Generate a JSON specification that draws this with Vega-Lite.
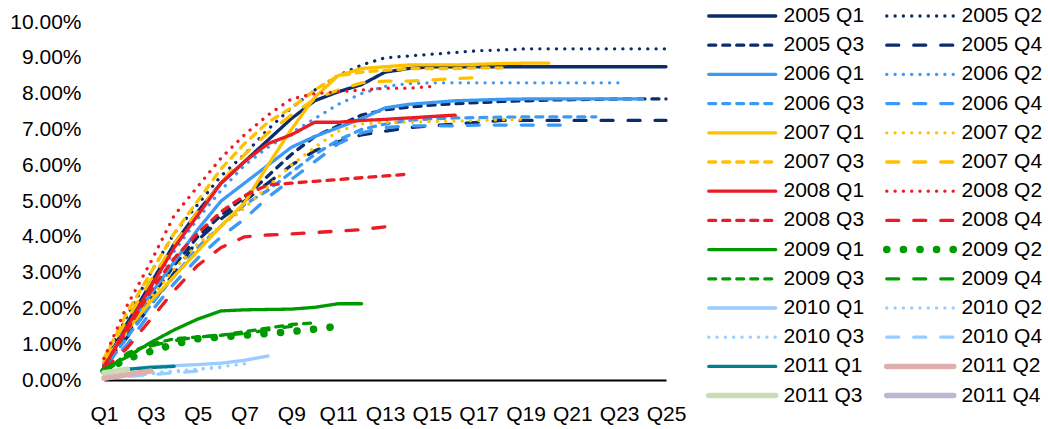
{
"$schema":"https://vega.github.io/schema/vega-lite/v6.json",
"autosize":{"type":"none"},
"padding":{"left":104,"top":22,"right":382,"bottom":49},
"width":562,"height":358,
"config":{"view":{"stroke":null},"font":"Liberation Sans"},
"data":{"values":[
{"s":"2005 Q1","q":1,"v":0.4},{"s":"2005 Q1","q":2,"v":1.6},{"s":"2005 Q1","q":3,"v":2.7},{"s":"2005 Q1","q":4,"v":3.8},{"s":"2005 Q1","q":5,"v":4.7},{"s":"2005 Q1","q":6,"v":5.5},{"s":"2005 Q1","q":7,"v":6.1},{"s":"2005 Q1","q":8,"v":6.7},{"s":"2005 Q1","q":9,"v":7.3},{"s":"2005 Q1","q":10,"v":7.8},{"s":"2005 Q1","q":11,"v":8.05},{"s":"2005 Q1","q":12,"v":8.25},{"s":"2005 Q1","q":13,"v":8.6},{"s":"2005 Q1","q":14,"v":8.7},{"s":"2005 Q1","q":15,"v":8.75},{"s":"2005 Q1","q":16,"v":8.75},{"s":"2005 Q1","q":17,"v":8.75},{"s":"2005 Q1","q":18,"v":8.75},{"s":"2005 Q1","q":19,"v":8.75},{"s":"2005 Q1","q":20,"v":8.75},{"s":"2005 Q1","q":21,"v":8.75},{"s":"2005 Q1","q":22,"v":8.75},{"s":"2005 Q1","q":23,"v":8.75},{"s":"2005 Q1","q":24,"v":8.75},{"s":"2005 Q1","q":25,"v":8.75},
{"s":"2005 Q2","q":1,"v":0.5},{"s":"2005 Q2","q":2,"v":1.8},{"s":"2005 Q2","q":3,"v":3.0},{"s":"2005 Q2","q":4,"v":4.1},{"s":"2005 Q2","q":5,"v":4.9},{"s":"2005 Q2","q":6,"v":5.7},{"s":"2005 Q2","q":7,"v":6.3},{"s":"2005 Q2","q":8,"v":7.0},{"s":"2005 Q2","q":9,"v":7.6},{"s":"2005 Q2","q":10,"v":8.1},{"s":"2005 Q2","q":11,"v":8.5},{"s":"2005 Q2","q":12,"v":8.8},{"s":"2005 Q2","q":13,"v":9.0},{"s":"2005 Q2","q":14,"v":9.05},{"s":"2005 Q2","q":15,"v":9.1},{"s":"2005 Q2","q":16,"v":9.15},{"s":"2005 Q2","q":17,"v":9.2},{"s":"2005 Q2","q":18,"v":9.22},{"s":"2005 Q2","q":19,"v":9.25},{"s":"2005 Q2","q":20,"v":9.25},{"s":"2005 Q2","q":21,"v":9.25},{"s":"2005 Q2","q":22,"v":9.25},{"s":"2005 Q2","q":23,"v":9.25},{"s":"2005 Q2","q":24,"v":9.25},{"s":"2005 Q2","q":25,"v":9.25},
{"s":"2005 Q3","q":1,"v":0.35},{"s":"2005 Q3","q":2,"v":1.3},{"s":"2005 Q3","q":3,"v":2.3},{"s":"2005 Q3","q":4,"v":3.2},{"s":"2005 Q3","q":5,"v":4.0},{"s":"2005 Q3","q":6,"v":4.6},{"s":"2005 Q3","q":7,"v":5.1},{"s":"2005 Q3","q":8,"v":5.7},{"s":"2005 Q3","q":9,"v":6.3},{"s":"2005 Q3","q":10,"v":6.8},{"s":"2005 Q3","q":11,"v":7.1},{"s":"2005 Q3","q":12,"v":7.4},{"s":"2005 Q3","q":13,"v":7.55},{"s":"2005 Q3","q":14,"v":7.62},{"s":"2005 Q3","q":15,"v":7.68},{"s":"2005 Q3","q":16,"v":7.72},{"s":"2005 Q3","q":17,"v":7.75},{"s":"2005 Q3","q":18,"v":7.78},{"s":"2005 Q3","q":19,"v":7.8},{"s":"2005 Q3","q":20,"v":7.82},{"s":"2005 Q3","q":21,"v":7.83},{"s":"2005 Q3","q":22,"v":7.84},{"s":"2005 Q3","q":23,"v":7.85},{"s":"2005 Q3","q":24,"v":7.85},{"s":"2005 Q3","q":25,"v":7.85},
{"s":"2005 Q4","q":1,"v":0.4},{"s":"2005 Q4","q":2,"v":1.2},{"s":"2005 Q4","q":3,"v":2.1},{"s":"2005 Q4","q":4,"v":3.0},{"s":"2005 Q4","q":5,"v":3.9},{"s":"2005 Q4","q":6,"v":4.5},{"s":"2005 Q4","q":7,"v":5.0},{"s":"2005 Q4","q":8,"v":5.5},{"s":"2005 Q4","q":9,"v":6.0},{"s":"2005 Q4","q":10,"v":6.4},{"s":"2005 Q4","q":11,"v":6.65},{"s":"2005 Q4","q":12,"v":6.85},{"s":"2005 Q4","q":13,"v":6.95},{"s":"2005 Q4","q":14,"v":7.05},{"s":"2005 Q4","q":15,"v":7.1},{"s":"2005 Q4","q":16,"v":7.15},{"s":"2005 Q4","q":17,"v":7.2},{"s":"2005 Q4","q":18,"v":7.25},{"s":"2005 Q4","q":19,"v":7.25},{"s":"2005 Q4","q":20,"v":7.25},{"s":"2005 Q4","q":21,"v":7.25},{"s":"2005 Q4","q":22,"v":7.25},{"s":"2005 Q4","q":23,"v":7.25},{"s":"2005 Q4","q":24,"v":7.25},{"s":"2005 Q4","q":25,"v":7.25},
{"s":"2006 Q1","q":1,"v":0.4},{"s":"2006 Q1","q":2,"v":1.4},{"s":"2006 Q1","q":3,"v":2.4},{"s":"2006 Q1","q":4,"v":3.3},{"s":"2006 Q1","q":5,"v":4.2},{"s":"2006 Q1","q":6,"v":5.0},{"s":"2006 Q1","q":7,"v":5.5},{"s":"2006 Q1","q":8,"v":6.0},{"s":"2006 Q1","q":9,"v":6.5},{"s":"2006 Q1","q":10,"v":6.8},{"s":"2006 Q1","q":11,"v":7.05},{"s":"2006 Q1","q":12,"v":7.3},{"s":"2006 Q1","q":13,"v":7.6},{"s":"2006 Q1","q":14,"v":7.7},{"s":"2006 Q1","q":15,"v":7.75},{"s":"2006 Q1","q":16,"v":7.8},{"s":"2006 Q1","q":17,"v":7.82},{"s":"2006 Q1","q":18,"v":7.84},{"s":"2006 Q1","q":19,"v":7.85},{"s":"2006 Q1","q":20,"v":7.85},{"s":"2006 Q1","q":21,"v":7.85},{"s":"2006 Q1","q":22,"v":7.85},{"s":"2006 Q1","q":23,"v":7.85},{"s":"2006 Q1","q":24,"v":7.85},
{"s":"2006 Q2","q":1,"v":0.45},{"s":"2006 Q2","q":2,"v":1.5},{"s":"2006 Q2","q":3,"v":2.6},{"s":"2006 Q2","q":4,"v":3.6},{"s":"2006 Q2","q":5,"v":4.5},{"s":"2006 Q2","q":6,"v":5.3},{"s":"2006 Q2","q":7,"v":6.0},{"s":"2006 Q2","q":8,"v":6.5},{"s":"2006 Q2","q":9,"v":6.9},{"s":"2006 Q2","q":10,"v":7.3},{"s":"2006 Q2","q":11,"v":7.7},{"s":"2006 Q2","q":12,"v":8.0},{"s":"2006 Q2","q":13,"v":8.2},{"s":"2006 Q2","q":14,"v":8.28},{"s":"2006 Q2","q":15,"v":8.3},{"s":"2006 Q2","q":16,"v":8.3},{"s":"2006 Q2","q":17,"v":8.3},{"s":"2006 Q2","q":18,"v":8.3},{"s":"2006 Q2","q":19,"v":8.3},{"s":"2006 Q2","q":20,"v":8.3},{"s":"2006 Q2","q":21,"v":8.3},{"s":"2006 Q2","q":22,"v":8.3},{"s":"2006 Q2","q":23,"v":8.3},
{"s":"2006 Q3","q":1,"v":0.3},{"s":"2006 Q3","q":2,"v":1.2},{"s":"2006 Q3","q":3,"v":2.1},{"s":"2006 Q3","q":4,"v":2.9},{"s":"2006 Q3","q":5,"v":3.7},{"s":"2006 Q3","q":6,"v":4.3},{"s":"2006 Q3","q":7,"v":4.9},{"s":"2006 Q3","q":8,"v":5.3},{"s":"2006 Q3","q":9,"v":5.8},{"s":"2006 Q3","q":10,"v":6.3},{"s":"2006 Q3","q":11,"v":6.7},{"s":"2006 Q3","q":12,"v":7.0},{"s":"2006 Q3","q":13,"v":7.15},{"s":"2006 Q3","q":14,"v":7.25},{"s":"2006 Q3","q":15,"v":7.3},{"s":"2006 Q3","q":16,"v":7.32},{"s":"2006 Q3","q":17,"v":7.33},{"s":"2006 Q3","q":18,"v":7.34},{"s":"2006 Q3","q":19,"v":7.35},{"s":"2006 Q3","q":20,"v":7.35},{"s":"2006 Q3","q":21,"v":7.35},{"s":"2006 Q3","q":22,"v":7.35},
{"s":"2006 Q4","q":1,"v":0.3},{"s":"2006 Q4","q":2,"v":1.0},{"s":"2006 Q4","q":3,"v":1.9},{"s":"2006 Q4","q":4,"v":2.7},{"s":"2006 Q4","q":5,"v":3.4},{"s":"2006 Q4","q":6,"v":4.0},{"s":"2006 Q4","q":7,"v":4.5},{"s":"2006 Q4","q":8,"v":5.1},{"s":"2006 Q4","q":9,"v":5.6},{"s":"2006 Q4","q":10,"v":6.1},{"s":"2006 Q4","q":11,"v":6.6},{"s":"2006 Q4","q":12,"v":6.9},{"s":"2006 Q4","q":13,"v":7.05},{"s":"2006 Q4","q":14,"v":7.1},{"s":"2006 Q4","q":15,"v":7.1},{"s":"2006 Q4","q":16,"v":7.1},{"s":"2006 Q4","q":17,"v":7.12},{"s":"2006 Q4","q":18,"v":7.12},{"s":"2006 Q4","q":19,"v":7.12},{"s":"2006 Q4","q":20,"v":7.12},{"s":"2006 Q4","q":21,"v":7.12},
{"s":"2007 Q1","q":1,"v":0.5},{"s":"2007 Q1","q":2,"v":1.4},{"s":"2007 Q1","q":3,"v":2.2},{"s":"2007 Q1","q":4,"v":2.9},{"s":"2007 Q1","q":5,"v":3.6},{"s":"2007 Q1","q":6,"v":4.3},{"s":"2007 Q1","q":7,"v":4.95},{"s":"2007 Q1","q":8,"v":6.0},{"s":"2007 Q1","q":9,"v":7.0},{"s":"2007 Q1","q":10,"v":7.9},{"s":"2007 Q1","q":11,"v":8.5},{"s":"2007 Q1","q":12,"v":8.7},{"s":"2007 Q1","q":13,"v":8.75},{"s":"2007 Q1","q":14,"v":8.8},{"s":"2007 Q1","q":15,"v":8.8},{"s":"2007 Q1","q":16,"v":8.8},{"s":"2007 Q1","q":17,"v":8.82},{"s":"2007 Q1","q":18,"v":8.84},{"s":"2007 Q1","q":19,"v":8.85},{"s":"2007 Q1","q":20,"v":8.85},
{"s":"2007 Q2","q":1,"v":0.5},{"s":"2007 Q2","q":2,"v":1.4},{"s":"2007 Q2","q":3,"v":2.3},{"s":"2007 Q2","q":4,"v":3.1},{"s":"2007 Q2","q":5,"v":3.8},{"s":"2007 Q2","q":6,"v":4.3},{"s":"2007 Q2","q":7,"v":4.8},{"s":"2007 Q2","q":8,"v":5.4},{"s":"2007 Q2","q":9,"v":6.0},{"s":"2007 Q2","q":10,"v":6.5},{"s":"2007 Q2","q":11,"v":6.95},{"s":"2007 Q2","q":12,"v":7.15},{"s":"2007 Q2","q":13,"v":7.2},{"s":"2007 Q2","q":14,"v":7.2},{"s":"2007 Q2","q":15,"v":7.22},{"s":"2007 Q2","q":16,"v":7.23},{"s":"2007 Q2","q":17,"v":7.25},{"s":"2007 Q2","q":18,"v":7.27},{"s":"2007 Q2","q":19,"v":7.28},
{"s":"2007 Q3","q":1,"v":0.6},{"s":"2007 Q3","q":2,"v":1.9},{"s":"2007 Q3","q":3,"v":3.0},{"s":"2007 Q3","q":4,"v":4.1},{"s":"2007 Q3","q":5,"v":5.0},{"s":"2007 Q3","q":6,"v":5.9},{"s":"2007 Q3","q":7,"v":6.6},{"s":"2007 Q3","q":8,"v":7.2},{"s":"2007 Q3","q":9,"v":7.6},{"s":"2007 Q3","q":10,"v":8.1},{"s":"2007 Q3","q":11,"v":8.5},{"s":"2007 Q3","q":12,"v":8.6},{"s":"2007 Q3","q":13,"v":8.65},{"s":"2007 Q3","q":14,"v":8.7},{"s":"2007 Q3","q":15,"v":8.7},{"s":"2007 Q3","q":16,"v":8.7},{"s":"2007 Q3","q":17,"v":8.72},{"s":"2007 Q3","q":18,"v":8.72},
{"s":"2007 Q4","q":1,"v":0.6},{"s":"2007 Q4","q":2,"v":1.7},{"s":"2007 Q4","q":3,"v":2.8},{"s":"2007 Q4","q":4,"v":3.8},{"s":"2007 Q4","q":5,"v":4.7},{"s":"2007 Q4","q":6,"v":5.5},{"s":"2007 Q4","q":7,"v":6.3},{"s":"2007 Q4","q":8,"v":6.9},{"s":"2007 Q4","q":9,"v":7.4},{"s":"2007 Q4","q":10,"v":7.85},{"s":"2007 Q4","q":11,"v":8.1},{"s":"2007 Q4","q":12,"v":8.3},{"s":"2007 Q4","q":13,"v":8.35},{"s":"2007 Q4","q":14,"v":8.35},{"s":"2007 Q4","q":15,"v":8.38},{"s":"2007 Q4","q":16,"v":8.42},{"s":"2007 Q4","q":17,"v":8.45},
{"s":"2008 Q1","q":1,"v":0.35},{"s":"2008 Q1","q":2,"v":1.5},{"s":"2008 Q1","q":3,"v":2.6},{"s":"2008 Q1","q":4,"v":3.7},{"s":"2008 Q1","q":5,"v":4.6},{"s":"2008 Q1","q":6,"v":5.5},{"s":"2008 Q1","q":7,"v":6.1},{"s":"2008 Q1","q":8,"v":6.6},{"s":"2008 Q1","q":9,"v":6.85},{"s":"2008 Q1","q":10,"v":7.2},{"s":"2008 Q1","q":11,"v":7.2},{"s":"2008 Q1","q":12,"v":7.25},{"s":"2008 Q1","q":13,"v":7.28},{"s":"2008 Q1","q":14,"v":7.32},{"s":"2008 Q1","q":15,"v":7.36},{"s":"2008 Q1","q":16,"v":7.4},
{"s":"2008 Q2","q":1,"v":0.6},{"s":"2008 Q2","q":2,"v":2.1},{"s":"2008 Q2","q":3,"v":3.3},{"s":"2008 Q2","q":4,"v":4.6},{"s":"2008 Q2","q":5,"v":5.4},{"s":"2008 Q2","q":6,"v":6.2},{"s":"2008 Q2","q":7,"v":6.85},{"s":"2008 Q2","q":8,"v":7.4},{"s":"2008 Q2","q":9,"v":7.85},{"s":"2008 Q2","q":10,"v":8.0},{"s":"2008 Q2","q":11,"v":8.05},{"s":"2008 Q2","q":12,"v":8.1},{"s":"2008 Q2","q":13,"v":8.15},{"s":"2008 Q2","q":14,"v":8.15},{"s":"2008 Q2","q":15,"v":8.2},
{"s":"2008 Q3","q":1,"v":0.4},{"s":"2008 Q3","q":2,"v":1.4},{"s":"2008 Q3","q":3,"v":2.5},{"s":"2008 Q3","q":4,"v":3.4},{"s":"2008 Q3","q":5,"v":4.1},{"s":"2008 Q3","q":6,"v":4.7},{"s":"2008 Q3","q":7,"v":5.15},{"s":"2008 Q3","q":8,"v":5.45},{"s":"2008 Q3","q":9,"v":5.5},{"s":"2008 Q3","q":10,"v":5.55},{"s":"2008 Q3","q":11,"v":5.6},{"s":"2008 Q3","q":12,"v":5.65},{"s":"2008 Q3","q":13,"v":5.7},{"s":"2008 Q3","q":14,"v":5.75},
{"s":"2008 Q4","q":1,"v":0.3},{"s":"2008 Q4","q":2,"v":0.9},{"s":"2008 Q4","q":3,"v":1.7},{"s":"2008 Q4","q":4,"v":2.5},{"s":"2008 Q4","q":5,"v":3.2},{"s":"2008 Q4","q":6,"v":3.7},{"s":"2008 Q4","q":7,"v":4.0},{"s":"2008 Q4","q":8,"v":4.05},{"s":"2008 Q4","q":9,"v":4.08},{"s":"2008 Q4","q":10,"v":4.12},{"s":"2008 Q4","q":11,"v":4.16},{"s":"2008 Q4","q":12,"v":4.2},{"s":"2008 Q4","q":13,"v":4.28},
{"s":"2009 Q1","q":1,"v":0.3},{"s":"2009 Q1","q":2,"v":0.65},{"s":"2009 Q1","q":3,"v":1.05},{"s":"2009 Q1","q":4,"v":1.4},{"s":"2009 Q1","q":5,"v":1.7},{"s":"2009 Q1","q":6,"v":1.93},{"s":"2009 Q1","q":7,"v":1.96},{"s":"2009 Q1","q":8,"v":1.97},{"s":"2009 Q1","q":9,"v":1.98},{"s":"2009 Q1","q":10,"v":2.03},{"s":"2009 Q1","q":11,"v":2.13},{"s":"2009 Q1","q":12,"v":2.13},
{"s":"2009 Q2","q":1,"v":0.25},{"s":"2009 Q2","q":2,"v":0.6},{"s":"2009 Q2","q":3,"v":0.8},{"s":"2009 Q2","q":4,"v":1.0},{"s":"2009 Q2","q":5,"v":1.15},{"s":"2009 Q2","q":6,"v":1.2},{"s":"2009 Q2","q":7,"v":1.25},{"s":"2009 Q2","q":8,"v":1.3},{"s":"2009 Q2","q":9,"v":1.35},{"s":"2009 Q2","q":10,"v":1.42},{"s":"2009 Q2","q":11,"v":1.5},
{"s":"2009 Q3","q":1,"v":0.2},{"s":"2009 Q3","q":2,"v":0.75},{"s":"2009 Q3","q":3,"v":1.0},{"s":"2009 Q3","q":4,"v":1.15},{"s":"2009 Q3","q":5,"v":1.2},{"s":"2009 Q3","q":6,"v":1.25},{"s":"2009 Q3","q":7,"v":1.35},{"s":"2009 Q3","q":8,"v":1.45},{"s":"2009 Q3","q":9,"v":1.55},{"s":"2009 Q3","q":10,"v":1.6},
{"s":"2009 Q4","q":1,"v":0.2},{"s":"2009 Q4","q":2,"v":0.7},{"s":"2009 Q4","q":3,"v":0.95},{"s":"2009 Q4","q":4,"v":1.1},{"s":"2009 Q4","q":5,"v":1.2},{"s":"2009 Q4","q":6,"v":1.25},{"s":"2009 Q4","q":7,"v":1.3},{"s":"2009 Q4","q":8,"v":1.4},{"s":"2009 Q4","q":9,"v":1.5},
{"s":"2010 Q1","q":1,"v":0.15},{"s":"2010 Q1","q":2,"v":0.3},{"s":"2010 Q1","q":3,"v":0.37},{"s":"2010 Q1","q":4,"v":0.4},{"s":"2010 Q1","q":5,"v":0.43},{"s":"2010 Q1","q":6,"v":0.47},{"s":"2010 Q1","q":7,"v":0.55},{"s":"2010 Q1","q":8,"v":0.67},
{"s":"2010 Q2","q":1,"v":0.05},{"s":"2010 Q2","q":2,"v":0.12},{"s":"2010 Q2","q":3,"v":0.2},{"s":"2010 Q2","q":4,"v":0.25},{"s":"2010 Q2","q":5,"v":0.3},{"s":"2010 Q2","q":6,"v":0.37},{"s":"2010 Q2","q":7,"v":0.45},
{"s":"2010 Q3","q":1,"v":0.05},{"s":"2010 Q3","q":2,"v":0.1},{"s":"2010 Q3","q":3,"v":0.17},{"s":"2010 Q3","q":4,"v":0.22},{"s":"2010 Q3","q":5,"v":0.3},{"s":"2010 Q3","q":6,"v":0.35},
{"s":"2010 Q4","q":1,"v":0.05},{"s":"2010 Q4","q":2,"v":0.1},{"s":"2010 Q4","q":3,"v":0.15},{"s":"2010 Q4","q":4,"v":0.2},{"s":"2010 Q4","q":5,"v":0.25},
{"s":"2011 Q1","q":1,"v":0.2},{"s":"2011 Q1","q":2,"v":0.3},{"s":"2011 Q1","q":3,"v":0.35},{"s":"2011 Q1","q":4,"v":0.38},
{"s":"2011 Q2","q":1,"v":0.05},{"s":"2011 Q2","q":2,"v":0.15},{"s":"2011 Q2","q":3,"v":0.25},
{"s":"2011 Q3","q":1,"v":0.2},{"s":"2011 Q3","q":2,"v":0.3},
{"s":"2011 Q4","q":1,"v":0.1}
]},
"mark":{"type":"line","strokeCap":"round","strokeJoin":"round"},
"encoding":{
"x":{"field":"q","type":"quantitative","scale":{"domain":[1,25],"nice":false,"zero":false},
 "axis":{"title":null,"values":[1,3,5,7,9,11,13,15,17,19,21,23,25],"labelExpr":"'Q' + datum.value","labelOverlap":false,"labelFlush":false,"grid":false,"ticks":false,"domainColor":"black","domainWidth":2,"labelFontSize":21,"labelColor":"black","labelPadding":23,"labelFont":"Liberation Sans"}},
"y":{"field":"v","type":"quantitative","scale":{"domain":[0,10],"nice":false},
 "axis":{"title":null,"values":[0,1,2,3,4,5,6,7,8,9,10],"labelExpr":"format(datum.value, '.2f') + '%'","labelOverlap":false,"labelFlush":false,"grid":false,"ticks":false,"domain":false,"labelFontSize":21,"labelColor":"black","labelPadding":23,"labelFont":"Liberation Sans"}},
"color":{"field":"s","type":"nominal",
 "scale":{"domain":["2005 Q1","2005 Q2","2005 Q3","2005 Q4","2006 Q1","2006 Q2","2006 Q3","2006 Q4","2007 Q1","2007 Q2","2007 Q3","2007 Q4","2008 Q1","2008 Q2","2008 Q3","2008 Q4","2009 Q1","2009 Q2","2009 Q3","2009 Q4","2010 Q1","2010 Q2","2010 Q3","2010 Q4","2011 Q1","2011 Q2","2011 Q3","2011 Q4"],
  "range":["#0b2d6b","#0b2d6b","#0b2d6b","#0b2d6b","#3a9af5","#3a9af5","#3a9af5","#3a9af5","#ffc000","#ffc000","#ffc000","#ffc000","#ec1c24","#ec1c24","#ec1c24","#ec1c24","#009900","#009900","#009900","#009900","#99ccff","#99ccff","#99ccff","#99ccff","#00818a","#ddb0ae","#cbdbb6","#c0b6d3"]},
 "legend":{"title":null,"orient":"none","direction":"horizontal","legendX":600.75,"legendY":-16,"columns":2,"symbolType":"stroke","symbolSize":4489,"labelFontSize":21,"labelFont":"Liberation Sans","labelColor":"black","labelOffset":3.75,"rowPadding":8.2,"columnPadding":18,"padding":0,"clipHeight":20,"labelLimit":200,"encode":{"symbols":{"update":{"strokeCap":{"value":"round"}}}}}},
"strokeDash":{"field":"s","type":"nominal",
 "scale":{"domain":["2005 Q1","2005 Q2","2005 Q3","2005 Q4","2006 Q1","2006 Q2","2006 Q3","2006 Q4","2007 Q1","2007 Q2","2007 Q3","2007 Q4","2008 Q1","2008 Q2","2008 Q3","2008 Q4","2009 Q1","2009 Q2","2009 Q3","2009 Q4","2010 Q1","2010 Q2","2010 Q3","2010 Q4","2011 Q1","2011 Q2","2011 Q3","2011 Q4"],
  "range":[[1,0],[0.1,8.2],[7,7],[12,15],[1,0],[0.1,8.2],[7,7],[12,15],[1,0],[0.1,8.2],[7,7],[12,15],[1,0],[0.1,8.2],[7,7],[12,15],[1,0],[0.1,16.5],[7,7],[12,15],[1,0],[0.1,8.2],[0.1,8.2],[12,15],[1,0],[1,0],[1,0],[1,0]]}},
"strokeWidth":{"field":"s","type":"nominal",
 "scale":{"type":"ordinal","domain":["2005 Q1","2005 Q2","2005 Q3","2005 Q4","2006 Q1","2006 Q2","2006 Q3","2006 Q4","2007 Q1","2007 Q2","2007 Q3","2007 Q4","2008 Q1","2008 Q2","2008 Q3","2008 Q4","2009 Q1","2009 Q2","2009 Q3","2009 Q4","2010 Q1","2010 Q2","2010 Q3","2010 Q4","2011 Q1","2011 Q2","2011 Q3","2011 Q4"],
  "range":[3.3,3.3,3.3,3.3,3.3,3.3,3.3,3.3,3.3,3.3,3.3,3.3,3.3,3.3,3.3,3.3,3.3,7.5,3.3,3.3,3.3,3.3,3.3,3.3,3.3,5.5,5.5,5.5]}}
}
}
